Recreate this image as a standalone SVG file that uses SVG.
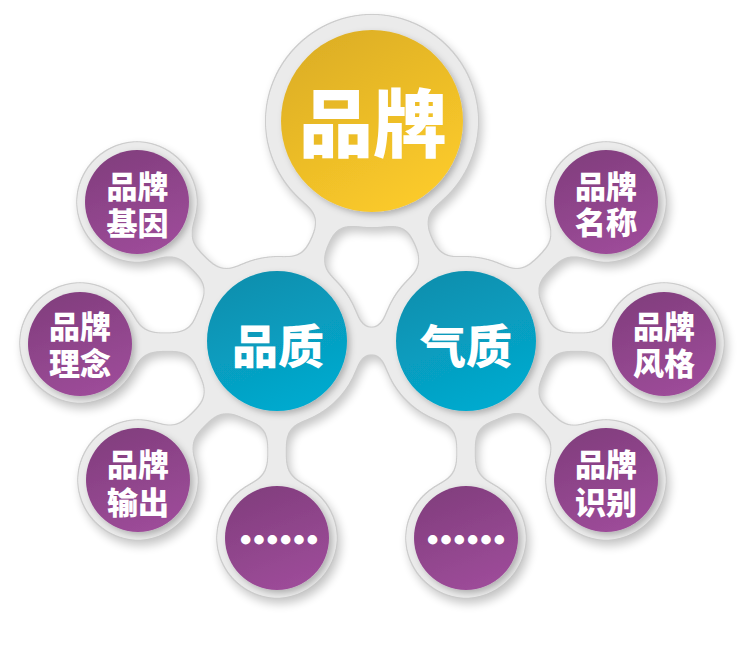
<svg xmlns="http://www.w3.org/2000/svg" width="750" height="669" viewBox="0 0 750 669">
  <defs>
    <linearGradient id="gYellow" x1="0.2" y1="0" x2="0.8" y2="1">
      <stop offset="0" stop-color="#dcae24"/>
      <stop offset="1" stop-color="#fdcc2b"/>
    </linearGradient>
    <linearGradient id="gTeal" x1="0.3" y1="0" x2="0.7" y2="1">
      <stop offset="0" stop-color="#0a8fae"/>
      <stop offset="1" stop-color="#04abd0"/>
    </linearGradient>
    <linearGradient id="gPurple" x1="0.3" y1="0" x2="0.7" y2="1">
      <stop offset="0" stop-color="#823e7e"/>
      <stop offset="1" stop-color="#9e4c9a"/>
    </linearGradient>
    <filter id="goo" filterUnits="userSpaceOnUse" x="0" y="0" width="750" height="669" color-interpolation-filters="sRGB">
      <feGaussianBlur in="SourceAlpha" stdDeviation="10" result="b"/>
      <feColorMatrix in="b" type="matrix" values="0 0 0 0 0  0 0 0 0 0  0 0 0 0 0  0 0 0 30 -15" result="m"/>
      <feGaussianBlur in="m" stdDeviation="5" result="sb"/>
      <feOffset in="sb" dx="3" dy="5" result="so"/>
      <feComponentTransfer in="so" result="sh"><feFuncA type="linear" slope="0.22"/></feComponentTransfer>
      <feFlood flood-color="#cdcdcd" result="c1"/>
      <feComposite in="c1" in2="m" operator="in" result="edge"/>
      <feMorphology in="m" operator="erode" radius="1" result="mi"/>
      <feFlood flood-color="#ebebeb" result="c2"/>
      <feComposite in="c2" in2="mi" operator="in" result="fill"/>
      <feMerge><feMergeNode in="sh"/><feMergeNode in="edge"/><feMergeNode in="fill"/></feMerge>
    </filter>
    <filter id="ds" x="-20%" y="-20%" width="150%" height="150%">
      <feDropShadow dx="3" dy="3" stdDeviation="3" flood-color="#000" flood-opacity="0.25"/>
    </filter>
  </defs>
  <style>
    .ln { stroke: #000; stroke-width: 21; stroke-linecap: round; fill: none; }
    .ring { fill: #000; }
    .t { font-family: "Noto Sans CJK SC", "Noto Sans", sans-serif; font-weight: 900; fill: #ffffff; text-anchor: middle; dominant-baseline: central; }
    .ts { font-size: 31px; }
    .tm { font-size: 46px; }
    .tl { font-size: 74px; }
    .dots { font-size: 40px; font-weight: bold; stroke: #ffffff; stroke-width: 3; stroke-linejoin: round; }
  </style>
  <rect width="750" height="669" fill="#ffffff"/>

  <g id="backplate" filter="url(#goo)">
    <g id="connectors">
      <line class="ln" x1="372" y1="121" x2="277" y2="341"/>
      <line class="ln" x1="372" y1="121" x2="466" y2="341"/>
      <line class="ln" x1="277" y1="341" x2="466" y2="341"/>
      <line class="ln" x1="277" y1="341" x2="137" y2="202"/>
      <line class="ln" x1="277" y1="341" x2="80" y2="343"/>
      <line class="ln" x1="277" y1="341" x2="138" y2="480"/>
      <line class="ln" x1="277" y1="341" x2="277" y2="538"/>
      <line class="ln" x1="466" y1="341" x2="606" y2="202"/>
      <line class="ln" x1="466" y1="341" x2="664" y2="343"/>
      <line class="ln" x1="466" y1="341" x2="606" y2="480"/>
      <line class="ln" x1="466" y1="341" x2="466" y2="538"/>
    </g>
    <g id="rings">
      <circle class="ring" cx="372" cy="121" r="108"/>
      <circle class="ring" cx="277" cy="341" r="86"/>
      <circle class="ring" cx="466" cy="341" r="86"/>
      <circle class="ring" cx="137" cy="202" r="62"/>
      <circle class="ring" cx="80" cy="343" r="62"/>
      <circle class="ring" cx="138" cy="480" r="62"/>
      <circle class="ring" cx="277" cy="538" r="62"/>
      <circle class="ring" cx="606" cy="202" r="62"/>
      <circle class="ring" cx="664" cy="343" r="62"/>
      <circle class="ring" cx="606" cy="480" r="62"/>
      <circle class="ring" cx="466" cy="538" r="62"/>
    </g>
  </g>

  <g id="node-brand">
    <circle cx="372" cy="121" r="91" fill="url(#gYellow)" filter="url(#ds)"/>
    <text class="t tl" x="373" y="118">品牌</text>
  </g>
  <g id="node-quality">
    <circle cx="277" cy="341" r="70" fill="url(#gTeal)" filter="url(#ds)"/>
    <text class="t tm" x="278" y="343">品质</text>
  </g>
  <g id="node-temperament">
    <circle cx="466" cy="341" r="70" fill="url(#gTeal)" filter="url(#ds)"/>
    <text class="t tm" x="466" y="343">气质</text>
  </g>
  <g id="node-gene">
    <circle cx="137" cy="202" r="52" fill="url(#gPurple)" filter="url(#ds)"/>
    <text class="t ts" x="137.5" y="184">品牌</text>
    <text class="t ts" x="137.5" y="221">基因</text>
  </g>
  <g id="node-concept">
    <circle cx="80" cy="344" r="52" fill="url(#gPurple)" filter="url(#ds)"/>
    <text class="t ts" x="80" y="324">品牌</text>
    <text class="t ts" x="80" y="361">理念</text>
  </g>
  <g id="node-output">
    <circle cx="138" cy="480" r="52" fill="url(#gPurple)" filter="url(#ds)"/>
    <text class="t ts" x="138" y="462">品牌</text>
    <text class="t ts" x="138" y="500">输出</text>
  </g>
  <g id="node-more-left">
    <circle cx="277" cy="538" r="52" fill="url(#gPurple)" filter="url(#ds)"/>
    <text class="t dots" x="279" y="538">……</text>
  </g>
  <g id="node-name">
    <circle cx="606" cy="202" r="52" fill="url(#gPurple)" filter="url(#ds)"/>
    <text class="t ts" x="606" y="184">品牌</text>
    <text class="t ts" x="606" y="220">名称</text>
  </g>
  <g id="node-style">
    <circle cx="664" cy="344" r="52" fill="url(#gPurple)" filter="url(#ds)"/>
    <text class="t ts" x="664" y="324">品牌</text>
    <text class="t ts" x="664" y="361">风格</text>
  </g>
  <g id="node-identity">
    <circle cx="606" cy="480" r="52" fill="url(#gPurple)" filter="url(#ds)"/>
    <text class="t ts" x="606" y="462">品牌</text>
    <text class="t ts" x="606" y="500">识别</text>
  </g>
  <g id="node-more-right">
    <circle cx="466" cy="538" r="52" fill="url(#gPurple)" filter="url(#ds)"/>
    <text class="t dots" x="466" y="538">……</text>
  </g>
</svg>
